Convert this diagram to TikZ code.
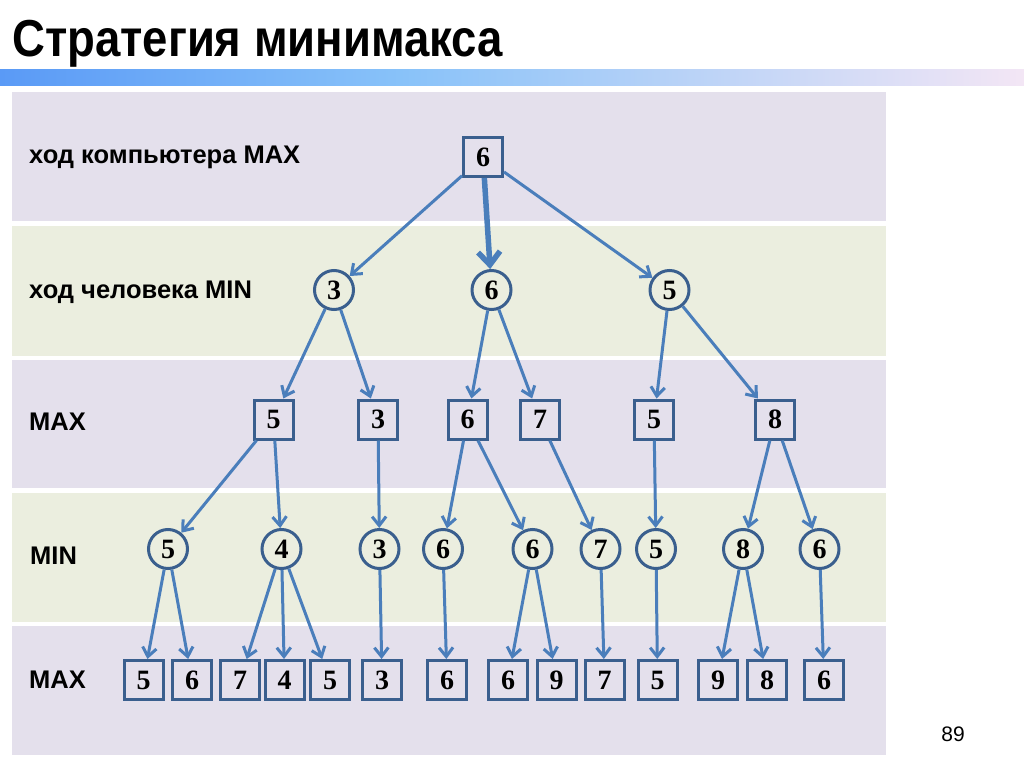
\documentclass[tikz,border=0pt]{standalone}
\usepackage{fontspec}
\setmainfont{Liberation Sans}
\newfontfamily\numfont{Liberation Serif}
\usepackage{tikz}
\usetikzlibrary{arrows.meta,positioning}
\definecolor{bandmax}{HTML}{E4E0EC}
\definecolor{bandmin}{HTML}{EBEEDF}
\definecolor{edgeblue}{HTML}{4A7EBB}
\definecolor{nodeblue}{HTML}{3A5F8E}
\definecolor{barA}{HTML}{5A9AF6}
\definecolor{barB}{HTML}{88C2F9}
\definecolor{barC}{HTML}{F3E6F5}

\begin{document}
\begin{tikzpicture}[x=1pt,y=-1pt]
\tikzstyle{maxv}=[draw=nodeblue, line width=3pt, rectangle, minimum size=39pt, inner sep=0pt, font=\numfont\bfseries\fontsize{28}{28}\selectfont]
\tikzstyle{minv}=[draw=nodeblue, line width=3pt, circle, minimum size=39pt, inner sep=0pt, font=\numfont\bfseries\fontsize{28}{28}\selectfont]
\tikzstyle{edg}=[draw=edgeblue, line width=3pt, -{Straight Barb[length=9pt,width=14pt]}]
\tikzstyle{lvl}=[anchor=west, inner sep=0pt, font=\bfseries\fontsize{25.5}{25.5}\selectfont]
\useasboundingbox (0,0) rectangle (1024,767);
% title and bar
\node[anchor=base west, inner sep=0pt] (title) at (12,57) {\scalebox{0.875}[1]{\bfseries\fontsize{52}{52}\selectfont Стратегия минимакса}};
\fill[left color=barA, right color=barB] (0,70) rectangle (400,86);
\fill[left color=barB, right color=barC] (400,70) rectangle (1024,86);
% bands
\fill[bandmax] (12,92) rectangle (886,221);
\fill[bandmin] (12,226) rectangle (886,356);
\fill[bandmax] (12,360) rectangle (886,488);
\fill[bandmin] (12,493) rectangle (886,622);
\fill[bandmax] (12,626) rectangle (886,755);
\node[lvl] (l0) at (29,157) {ход компьютера MAX};
\node[lvl] (l1) at (29,292) {ход человека MIN};
\node[lvl] (l2) at (29,422) {MAX};
\node[lvl] (l3) at (30,556) {MIN};
\node[lvl] (l4) at (29,680) {MAX};
\node[inner sep=0pt, font=\fontsize{21}{21}\selectfont] (pg) at (953,734) {89};
% tree
\node[maxv] (r) at (483,157) {6};
\foreach \n/\x/\v in {a/334/3,b/491.5/6,c/669.5/5}{\node[minv] (\n) at (\x,290){\v};}
\foreach \n/\x/\v in {aa/273.5/5,ab/378/3,ba/467.5/6,bb/540/7,ca/654/5,cb/775/8}{\node[maxv] (\n) at (\x,419.5){\v};}
\foreach \n/\x/\v in {aaa/168/5,aab/281.5/4,aba/379.5/3,baa/443/6,bab/532.5/6,bba/600.5/7,caa/656/5,cba/743/8,cbb/819.5/6}{\node[minv] (\n) at (\x,549){\v};}
\foreach \n/\x/\v in {t1/143.5/5,t2/192/6,t3/240/7,t4/284.5/4,t5/330/5,t6/382/3,t7/447/6,t8/508/6,t9/556.5/9,t10/604.5/7,t11/657.5/5,t12/718/9,t13/767/8,t14/824/6}{\node[maxv] (\n) at (\x,680){\v};}
\foreach \i/\j in {r/a,r/c,a/aa,a/ab,b/ba,b/bb,c/ca,c/cb,aa/aaa,aa/aab,ab/aba,ba/baa,ba/bab,bb/bba,ca/caa,cb/cba,cb/cbb,aaa/t1,aaa/t2,aab/t3,aab/t4,aab/t5,aba/t6,baa/t7,bab/t8,bab/t9,bba/t10,caa/t11,cba/t12,cba/t13,cbb/t14}{\draw[edg] (\i) -- (\j);}
\draw[edg, line width=5.5pt, -{Straight Barb[length=13pt,width=22pt]}] (r) -- (b);
\end{tikzpicture}
\end{document}
